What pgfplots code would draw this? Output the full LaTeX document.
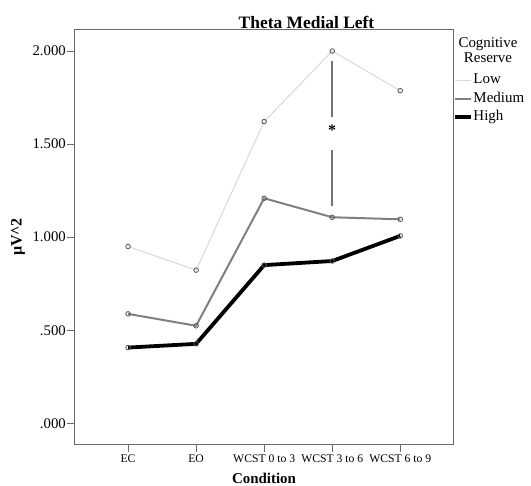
\documentclass[border=0pt]{standalone}
\usepackage{pgfplots}
\pgfplotsset{compat=1.18}
\usepackage{fontspec}
\setmainfont{Liberation Serif}
\definecolor{lowc}{HTML}{D8D8D8}
\definecolor{medc}{HTML}{808080}
\definecolor{axc}{HTML}{6A6A6A}
\definecolor{mkc}{HTML}{555555}
\begin{document}
\begin{tikzpicture}
\path[use as bounding box] (-75bp,-42bp) rectangle (456bp,444bp);
\begin{axis}[
  scale only axis, width=378bp, height=414bp,
  xmin=-0.78, xmax=4.775, ymin=-0.111, ymax=2.113,
  axis line style={axc, line width=1bp},
  tick style={axc, line width=1bp},
  tick align=outside, major tick length=8bp,
  xtick={0,1,2,3,4},
  xticklabels={EC,EO,WCST 0 to 3,WCST 3 to 6,WCST 6 to 9},
  ytick={0,0.5,1,1.5,2},
  yticklabels={.000,.500,1.000,1.500,2.000},
  xtick pos=bottom, ytick pos=left,
  xticklabel style={font=\fontsize{11.7}{13}\selectfont, inner sep=1bp, yshift=-2bp},
  yticklabel style={font=\fontsize{14.8}{16}\selectfont, inner sep=1bp},
  legend style={at={(axis description cs:1,0.897)}, anchor=north west,
    draw=none, fill=none, inner sep=0pt, row sep=3.5bp,
    font=\fontsize{15}{17.5}\selectfont,
    nodes={inner sep=0.5bp, anchor=west, text height=10.5bp, text depth=3.5bp}},
  legend cell align=left,
  legend image code/.code={\draw[#1] (0bp,0bp) -- (16bp,0bp);},
  clip=false,
]
\addplot[lowc, line width=1bp, mark=o, mark size=2.3bp,
  mark options={draw=mkc, fill=white, line width=0.8bp, solid}]
  coordinates {(0,0.950) (1,0.823) (2,1.621) (3,2.000) (4,1.787)};
\addlegendentry{Low}
\addplot[medc, line width=2bp, mark=o, mark size=2.3bp,
  mark options={draw=mkc, fill=white, line width=0.8bp, solid}]
  coordinates {(0,0.588) (1,0.524) (2,1.209) (3,1.107) (4,1.096)};
\addlegendentry{Medium}
\addplot[black, line width=3.8bp, mark=o, mark size=2.3bp,
  mark options={draw=mkc, fill=white, line width=0.8bp, solid}]
  coordinates {(0,0.407) (1,0.427) (2,0.850) (3,0.872) (4,1.007)};
\addlegendentry{High}
\addplot[medc!90!black, line width=1.6bp, forget plot] coordinates {(3,1.946) (3,1.648)};
\addplot[medc!90!black, line width=1.6bp, forget plot] coordinates {(3,1.470) (3,1.166)};
\node[font=\bfseries\fontsize{16}{16}\selectfont] at (axis cs:3,1.575) {*};
\end{axis}
\node[font=\bfseries\fontsize{17.5}{19}\selectfont, anchor=base, inner sep=0pt] at (231.5bp,415bp) {Theta Medial Left};
\node[font=\fontsize{15}{17}\selectfont, align=center, inner sep=0pt] at (413bp,394bp) {Cognitive\\[-2bp]Reserve};
\node[font=\bfseries\fontsize{15}{17}\selectfont] at (189bp,-34bp) {Condition};
\node[font=\bfseries\fontsize{16}{18}\selectfont, rotate=90] at (-57bp,207bp) {µV\textasciicircum 2};
\end{tikzpicture}
\end{document}
